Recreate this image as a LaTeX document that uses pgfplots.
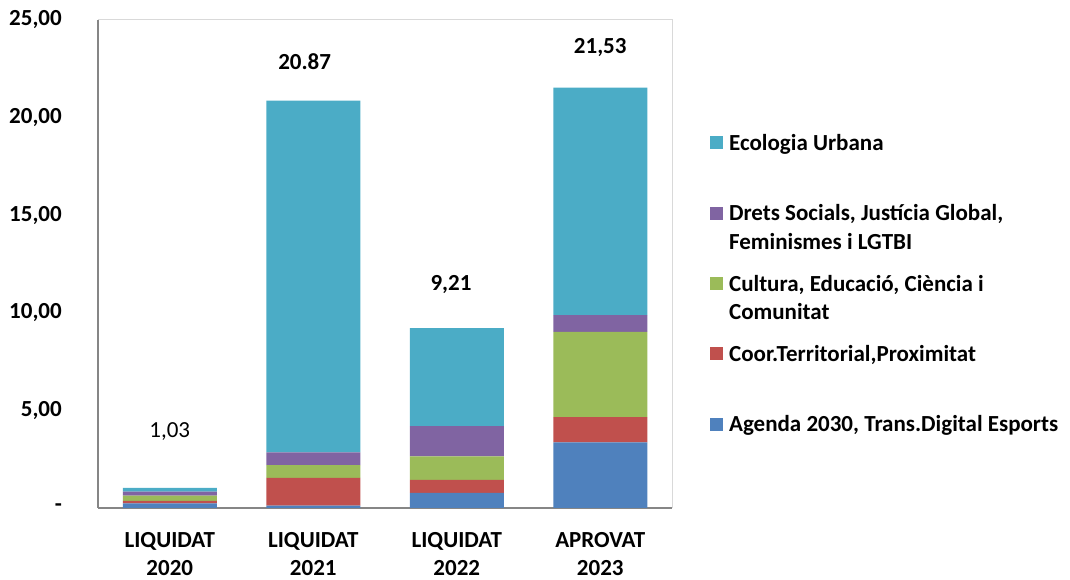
\documentclass[border=0pt]{standalone}
\usepackage{pgfplots}
\pgfplotsset{compat=1.18}
\usepackage{fontspec}
\setmainfont{Carlito}
\definecolor{cblue}{HTML}{4F81BD}
\definecolor{cred}{HTML}{C0504D}
\definecolor{cgreen}{HTML}{9BBB59}
\definecolor{cpurple}{HTML}{8064A2}
\definecolor{caqua}{HTML}{4BACC6}
\definecolor{axgray}{HTML}{868686}
\definecolor{frgray}{HTML}{D9D9D9}
\newcommand{\bigfont}{\fontsize{23}{28.5}\selectfont}
\newcommand{\legtxt}[2]{\parbox[t]{340pt}{\strut #1\\\strut #2}}
\begin{document}
\begin{tikzpicture}
\useasboundingbox (0,0) rectangle (1070pt,580pt);
\begin{axis}[
  at={(98pt,72pt)}, anchor=south west,
  scale only axis, width=574pt, height=488pt,
  ybar stacked, bar width=94pt,
  xmin=-0.5, xmax=3.5, ymin=0, ymax=25,
  xtick={0,1,2,3},
  xticklabels={{LIQUIDAT\\2020},{LIQUIDAT\\2021},{LIQUIDAT\\2022},{APROVAT\\2023}},
  ytick={0,5,10,15,20,25},
  yticklabels={{-\hspace{22pt}},{5,00},{10,00},{15,00},{20,00},{25,00}},
  major tick length=0pt,
  axis lines=left,
  axis line style={draw=axgray, line width=1.5pt, -},
  xticklabel style={font=\bigfont\bfseries, align=center, inner sep=0pt, yshift=-24pt},
  yticklabel style={font=\bigfont\bfseries, inner sep=0pt, xshift=-36pt},
  clip=false,
  legend style={at={(axis description cs:1.066,0.7746)}, anchor=north west, draw=none,
    inner sep=0pt, row sep=49pt, column sep=6pt, font=\bigfont\bfseries,
    nodes={inner sep=0pt}, cells={anchor=base west}},
  reverse legend,
  legend image code/.code={\fill[#1] (0pt,1pt) rectangle (13pt,14pt);},
]
\addplot[fill=cblue, draw=none] coordinates {(0,0.24) (1,0.12) (2,0.77) (3,3.36)};
\addlegendentry{\legtxt{Agenda 2030, Trans.Digital Esports}{}}
\addplot[fill=cred, draw=none] coordinates {(0,0.13) (1,1.42) (2,0.67) (3,1.30)};
\addlegendentry{\legtxt{Coor.Territorial,Proximitat}{}}
\addplot[fill=cgreen, draw=none] coordinates {(0,0.26) (1,0.66) (2,1.20) (3,4.36)};
\addlegendentry{\legtxt{Cultura, Educació, Ciència i}{Comunitat}}
\addplot[fill=cpurple, draw=none] coordinates {(0,0.21) (1,0.65) (2,1.56) (3,0.86)};
\addlegendentry{\legtxt{Drets Socials, Justícia Global,}{Feminismes i LGTBI}}
\addplot[fill=caqua, draw=none] coordinates {(0,0.19) (1,18.02) (2,5.01) (3,11.65)};
\addlegendentry{\legtxt{Ecologia Urbana}{}}
\draw[frgray, line width=1pt] (rel axis cs:0,1) -- (rel axis cs:1,1) -- (rel axis cs:1,0);
\node[font=\bigfont] at (axis cs:0,3.91) {1,03};
\node[font=\bigfont\bfseries] at (axis cs:0.94,22.89) {20.87};
\node[font=\bigfont\bfseries] at (axis cs:1.96,11.47) {9,21};
\node[font=\bigfont\bfseries] at (axis cs:3.0,23.60) {21,53};
\end{axis}
\end{tikzpicture}
\end{document}
